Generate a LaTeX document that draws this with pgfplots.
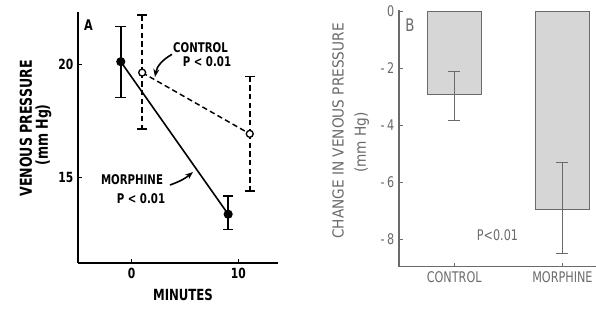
\documentclass[border=0pt]{standalone}
\usepackage{pgfplots}
\pgfplotsset{compat=1.18}
\usepackage{pgfplotstable}
\usetikzlibrary{arrows.meta}
\usepackage{fontspec}
\setmainfont{DejaVu Sans Condensed}
\newfontfamily\afont[FakeStretch=0.85]{DejaVu Sans Condensed}
\newfontfamily\bfont[FakeStretch=0.85]{DejaVu Sans Condensed}
\newfontfamily\blabfont{DejaVu Sans Condensed}
\definecolor{bgray}{HTML}{6A6A6A}
\definecolor{barfill}{HTML}{D6D6D6}

\pgfplotstableread{
x y ep em
-1.0 20.11 1.55 1.57
9.04 13.39 0.80 0.67
}\morphine
\pgfplotstableread{
x y ep em
1.0 19.63 2.54 2.48
11.06 16.93 2.52 2.52
}\control
\pgfplotstableread{
x y ep em
0 -2.91 0.79 0.92
1 -6.95 1.66 1.56
}\change

\begin{document}
\begin{tikzpicture}
\useasboundingbox (0,0) rectangle (447pt,231.75pt);
% ---------------- Panel A
\begin{axis}[
  scale only axis, width=150pt, height=188.25pt,
  at={(58.5pt,34.5pt)}, anchor=south west,
  xmin=-5, xmax=13.7, ymin=11.24, ymax=22.3,
  axis lines*=left,
  axis line style={line width=1.6pt},
  xtick={0,10}, ytick={15,20},
  tick align=inside, major tick length=3pt,
  tick style={line width=1pt, black},
  /pgf/number format/assume math mode=true,
  ticklabel style={font=\afont\bfseries\fontsize{10.5}{12}\selectfont},
  clip=false,
]
\addplot[black, line width=1.2pt, mark=*, mark size=2.8pt,
  error bars/.cd, y dir=both, y explicit,
  error bar style={line width=1.2pt},
  error mark options={rotate=90, mark size=4pt, line width=1.2pt}]
  table[x=x, y=y, y error plus=ep, y error minus=em] {\morphine};
\addplot[black, line width=1.1pt, dash pattern=on 4pt off 2.5pt,
  mark=*, mark size=2.6pt, mark options={solid, fill=white, draw=black, line width=1pt},
  error bars/.cd, y dir=both, y explicit,
  error bar style={line width=1.1pt, dash pattern=on 4pt off 2.5pt},
  error mark options={rotate=90, mark size=3.75pt, line width=1.1pt, solid}]
  table[x=x, y=y, y error plus=ep, y error minus=em] {\control};
\end{axis}
\begin{scope}[font=\afont\bfseries]
\node[font=\afont\bfseries\fontsize{11}{13}\selectfont] at (66.4pt,213pt) {A};
\node[font=\afont\bfseries\fontsize{10}{12}\selectfont] at (150.4pt,195.75pt) {CONTROL};
\node[font=\afont\bfseries\fontsize{10}{12}\selectfont] at (155.25pt,185.25pt) {P < 0.01};
\node[font=\afont\bfseries\fontsize{10}{12}\selectfont] at (99pt,96.75pt) {MORPHINE};
\node[font=\afont\bfseries\fontsize{10}{12}\selectfont] at (105.75pt,82.5pt) {P < 0.01};
\node[rotate=90, font=\afont\bfseries\fontsize{12.3}{14}\selectfont] at (19.5pt,135.4pt) {VENOUS PRESSURE};
\node[rotate=90, font=\afont\bfseries\fontsize{12.3}{14}\selectfont] at (32.5pt,130.5pt) {(mm Hg)};
\node[font=\afont\bfseries\fontsize{11.5}{13}\selectfont] at (137.25pt,10.5pt) {MINUTES};
\end{scope}
\draw[line width=1.2pt, -{Stealth[length=6pt,width=4.5pt]}] (129pt,191pt) to[out=210,in=80] (116.25pt,174pt);
\draw[line width=1.2pt, -{Stealth[length=6pt,width=4.5pt]}] (127.5pt,93pt) to[out=20,in=220] (144.75pt,102.75pt);
% ---------------- Panel B
\begin{axis}[
  scale only axis, width=147.75pt, height=192.5pt,
  at={(299.25pt,31.7pt)}, anchor=south west,
  xmin=-0.51, xmax=1.31, ymin=-8.96, ymax=0.05,
  axis lines*=left,
  axis line style={line width=0.9pt, bgray},
  xtick={0,1}, xticklabels={CONTROL,MORPHINE},
  ytick={-8,-6,-4,-2,0},
  yticklabels={{-\,8},{-\,6},{-\,4},{-\,2},0},
  tick align=inside, major tick length=3pt,
  tick style={line width=0.8pt, bgray},
  /pgf/number format/assume math mode=true,
  ticklabel style={font=\bfont\fontsize{11}{13}\selectfont, text=bgray},
  clip=false,
]
\addplot[ybar, bar width=0.5, fill=barfill, draw=bgray, line width=0.8pt,
  error bars/.cd, y dir=both, y explicit,
  error bar style={line width=0.8pt, bgray, solid},
  error mark options={rotate=90, mark size=4.5pt, line width=0.8pt, bgray}]
  table[x=x, y=y, y error plus=ep, y error minus=em] {\change};
\end{axis}
\begin{scope}[text=bgray]
\node[font=\bfont\fontsize{13}{15}\selectfont] at (307.5pt,213pt) {B};
\node[font=\bfont\fontsize{11}{13}\selectfont] at (373.1pt,55.5pt) {P<0.01};
\node[rotate=90, font=\blabfont\fontsize{11.4}{13}\selectfont] at (253.5pt,133.5pt) {CHANGE IN VENOUS PRESSURE};
\node[rotate=90, font=\blabfont\fontsize{11.4}{13}\selectfont] at (271.3pt,124.9pt) {(mm Hg)};
\end{scope}
\end{tikzpicture}
\end{document}
